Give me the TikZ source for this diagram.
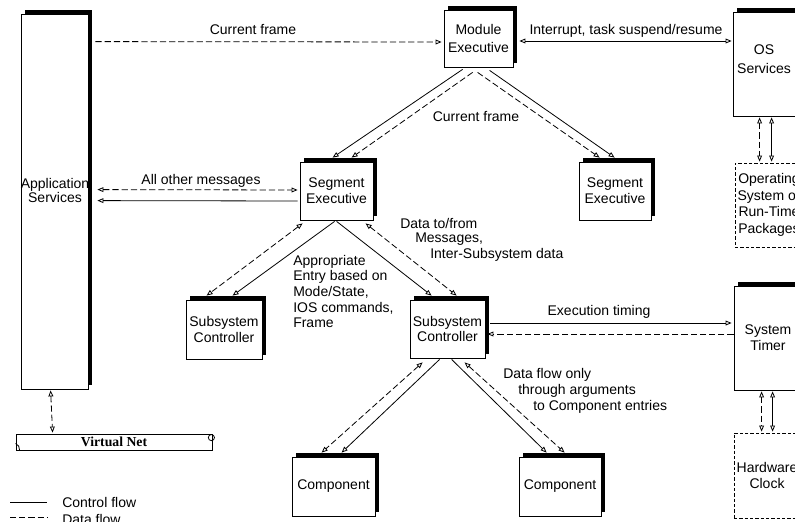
\documentclass[tikz,border=0pt]{standalone}
\usepackage{fontspec}
\setmainfont{Liberation Sans}
\newfontfamily\vnfont{Liberation Serif}
\usetikzlibrary{arrows.meta,shadows,calc}
\begin{document}
\begin{tikzpicture}[x=0.75pt,y=-0.75pt,
  every node/.style={font=\fontsize{10.5}{11.8}\selectfont, inner sep=0pt, align=center},
  sbox/.style={draw, fill=white, line width=0.6pt,
    drop shadow={shadow xshift=3pt, shadow yshift=3pt, fill=black, opacity=1}},
  dbox/.style={draw, dash pattern=on 2.4pt off 1.6pt, line width=0.6pt},
  ctl/.style={line width=0.6pt},
  dat/.style={line width=0.6pt, dash pattern=on 4.7pt off 2.2pt},
  >={Triangle[open,length=4.5pt,width=3.6pt]},
  lbl/.style={anchor=west, align=left}
]
\useasboundingbox (0,0) rectangle (795,521);
\clip (0,0) rectangle (795,521);

% boxes
\node (app) [sbox, minimum width=50.25pt, minimum height=281.25pt] at (54.5,201.5) {};
\node (appt) at (55,190) [font=\fontsize{10.5}{10.5}\selectfont] {Application\\Services};
\node (me) [sbox, minimum width=51.75pt, minimum height=42.75pt] at (478.5,38.5) {Module\\[1.5pt]Executive};
\node (os) [sbox, minimum width=48pt, minimum height=78pt] at (765,64) {};
\node (ost) at (764,59) {OS\\[2pt]Services};
\node (osp) [dbox, minimum width=51pt, minimum height=63pt, font=\fontsize{10.5}{12.4}\selectfont] at (769,205) {Operating\\System or\\Run-Time\\Packages};
\node (seg1) [sbox, minimum width=54.75pt, minimum height=43.5pt] at (336.5,191) {Segment\\Executive};
\node (seg2) [sbox, minimum width=54pt, minimum height=43.5pt] at (615,191) {Segment\\Executive};
\node (sc1) [sbox, minimum width=57pt, minimum height=44.25pt] at (224,329.5) {Subsystem\\Controller};
\node (sc2) [sbox, minimum width=56.25pt, minimum height=43.5pt] at (447.5,329) {Subsystem\\Controller};
\node (comp1) [sbox, minimum width=62.25pt, minimum height=44.25pt] at (333.5,486.5) {Component};
\node (comp2) [sbox, minimum width=61.5pt, minimum height=44.25pt] at (560,486.5) {Component};
\node (tim) [sbox, minimum width=51pt, minimum height=78pt] at (768,338) {System\\Timer};
\node (hw) [dbox, minimum width=49.5pt, minimum height=63.75pt] at (767,475.5) {Hardware\\Clock};
\node (vnet) [draw, line width=0.6pt, minimum width=147pt, minimum height=12pt,
  font=\vnfont\bfseries\fontsize{10.3}{12}\selectfont] at (114,442) {Virtual Net};
\draw[ctl] ($(vnet.south west)+(0,-7)$) .. controls +(3,1) and +(0,-3) .. ($(vnet.south west)+(4,0)$);
\draw[ctl] ($(vnet.north east)+(-1,4)$) circle[radius=2.3pt];

% connectors
\draw[dat,->] ($(app.north east)+(7,28)$) -- ($(me.west)+(-2,3.5)$);
\node (l1) at (253,30) {Current frame};
\draw[ctl,<->] ($(me.east)+(6,2.5)$) -- ($(os.west)+(-1,-23)$);
\node (l2) at (626,31) {Interrupt, task suspend/resume};

\draw[ctl,->] ($(me.south west)+(19,2)$) -- ($(seg1.north west)+(33,-4)$);
\draw[dat,->] ($(me.south west)+(29,5)$) -- ($(seg1.north west)+(52,-4)$);
\node (l3) at (476,117) {Current frame};
\draw[dat,->] ($(me.south west)+(34,5)$) -- ($(seg2.north west)+(21,-4)$);
\draw[ctl,->] ($(me.south west)+(46,3)$) -- ($(seg2.north west)+(36,-4)$);

\draw[dat,<->] ($(app.north east)+(9,176)$) -- ($(seg1.west)+(-2,-1)$);
\draw[ctl,->] ($(seg1.west)+(-2,10)$) -- ($(app.north east)+(9,187)$);
\node (l4) at (201,181) {All other messages};

\draw[dat,<->] ($(seg1.south west)+(3,3)$) -- ($(sc1.north west)+(21,-4)$);
\draw[ctl,->] ($(seg1.south west)+(35,1)$) -- ($(sc1.north west)+(47,-4)$);
\draw[ctl,->] ($(seg1.south west)+(37,1)$) -- ($(sc2.north west)+(22,-4)$);
\draw[dat,<->] ($(seg1.south west)+(66,3)$) -- ($(sc2.north west)+(47,-4)$);
\node (l5) [lbl] at (293,291.5) {Appropriate\\Entry based on\\Mode/State,\\IOS commands,\\Frame};
\node (l6a) [lbl] at (400,223) {Data to/from};
\node (l6b) [lbl] at (415,239) {Messages,};
\node (l6c) [lbl] at (430,255) {Inter-Subsystem data};

\draw[ctl,->] ($(sc2.east)+(5,-6)$) -- ($(tim.west)+(-2,-15)$);
\draw[dat,->] ($(tim.west)+(0,-4)$) -- ($(sc2.east)+(2,5)$);
\node (l7) at (599,312) {Execution timing};

\draw[dat,<->] ($(sc2.south west)+(13,4)$) -- ($(comp1.north west)+(30,-4)$);
\draw[ctl,->] ($(sc2.south west)+(30,1)$) -- ($(comp1.north west)+(50,-4)$);
\draw[ctl,->] ($(sc2.south west)+(42,1)$) -- ($(comp2.north west)+(28,-4)$);
\draw[dat,<->] ($(sc2.south west)+(55,4)$) -- ($(comp2.north west)+(46,-4)$);
\node (l8a) [lbl] at (503,375) {Data flow only};
\node (l8b) [lbl] at (518,391) {through arguments};
\node (l8c) [lbl] at (533,407) {to Component entries};

\draw[dat,<->] ($(app.south west)+(30,1)$) -- ($(vnet.north west)+(37,-1)$);
\draw[dat,<->] ($(os.south west)+(27,1)$) -- ($(osp.north west)+(25,-1)$);
\draw[ctl,<->] ($(os.south west)+(39,1)$) -- ($(osp.north west)+(37,-1)$);
\draw[dat,<->] ($(tim.south west)+(28,1)$) -- ($(hw.north west)+(28,-1)$);
\draw[ctl,<->] ($(tim.south west)+(39,1)$) -- ($(hw.north west)+(39,-1)$);

% legend
\coordinate (lg1a) at (10,502);
\coordinate (lg1b) at (47,502);
\coordinate (lg2a) at (10,517);
\coordinate (lg2b) at (47,517);
\draw[ctl] (lg1a) -- (lg1b);
\draw[dat] (lg2a) -- (lg2b);
\node (lgt1) [anchor=base west] at (62,507) {Control flow};
\node (lgt2) [anchor=base west] at (62,524) {Data flow};
\end{tikzpicture}
\end{document}
